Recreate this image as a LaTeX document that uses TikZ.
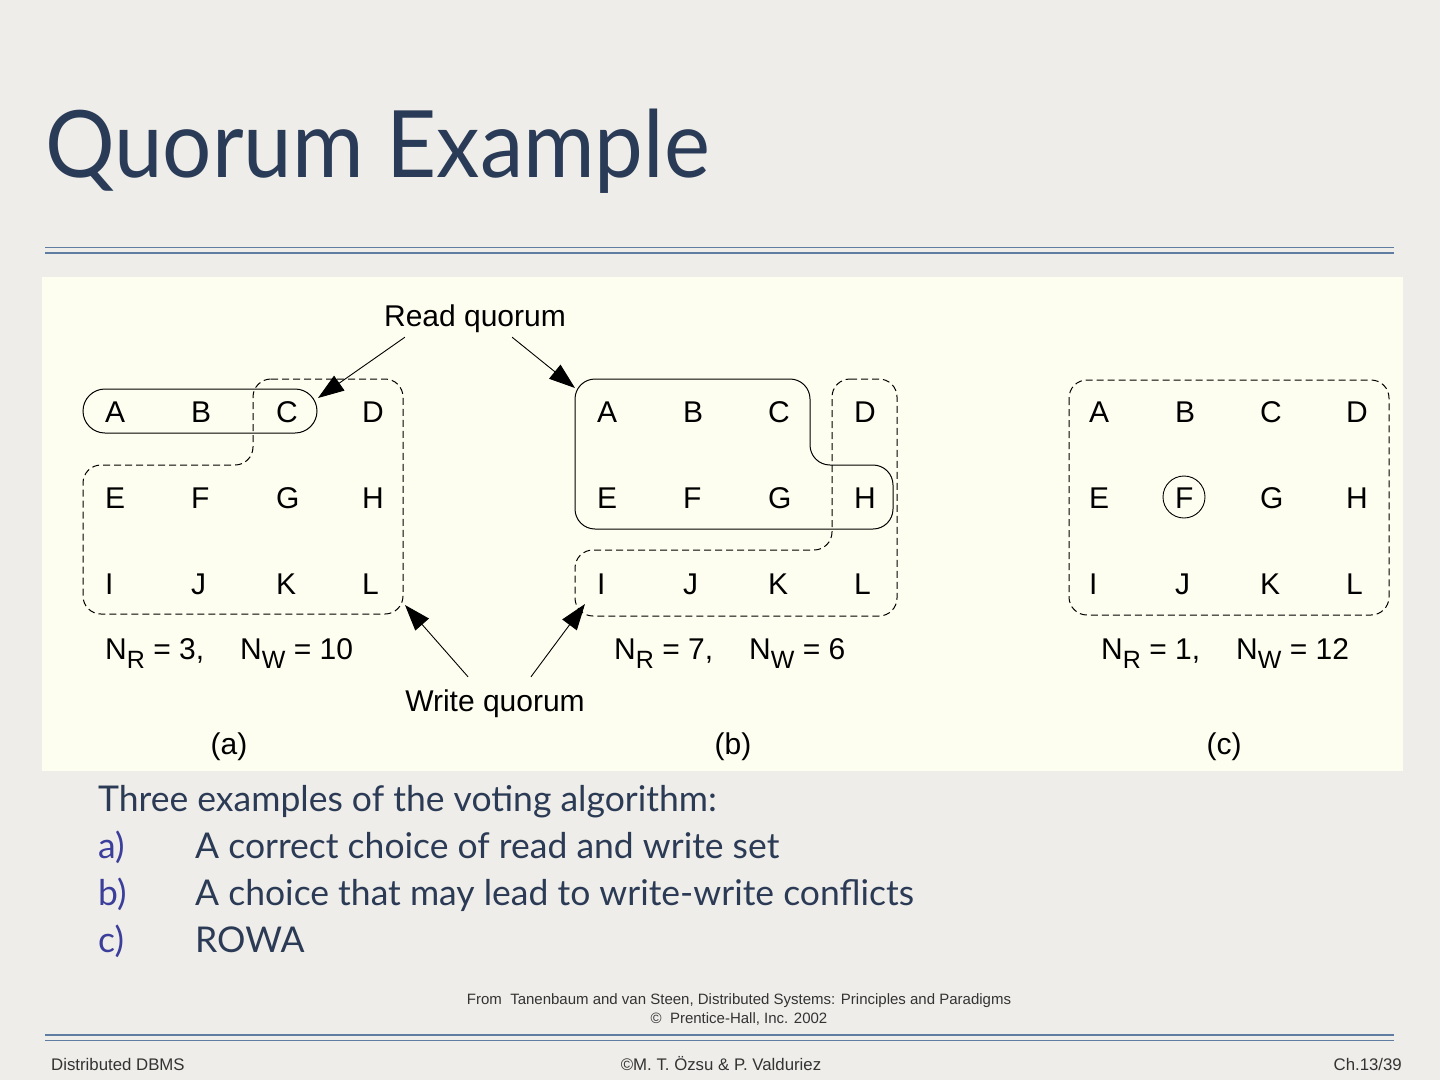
\documentclass[tikz,border=0pt]{standalone}
\usepackage{fontspec}
\setmainfont{Liberation Sans}
\newfontfamily\slidefont{Lato}
\usetikzlibrary{arrows.meta}
\definecolor{slidebg}{HTML}{EFEDE9}
\definecolor{panelbg}{HTML}{FEFEF0}
\definecolor{titlecol}{HTML}{2A3B57}
\definecolor{bodycol}{HTML}{2B3A55}
\definecolor{labcol}{HTML}{3B3E9A}
\definecolor{rulecol}{HTML}{5F7CA3}
\definecolor{footcol}{HTML}{333333}
\newcommand\subsc[1]{\raisebox{-0.33em}{\fontsize{25}{25}\selectfont #1}}
\tikzset{
  letter/.style={anchor=base west,inner sep=0pt,font=\fontsize{30}{36}\selectfont},
  lbl/.style={inner sep=0pt,font=\fontsize{30}{36}\selectfont},
  nlab/.style={anchor=base west,inner sep=0pt,font=\fontsize{30}{36}\selectfont},
  readq/.style={draw=black,line width=1pt,rounded corners=20pt},
  writeq/.style={draw=black,line width=1pt,dash pattern=on 7pt off 4pt,rounded corners=18pt},
  arr/.style={draw=black,line width=0.9pt,-{Triangle[length=26pt,width=18pt]}},
  body/.style={anchor=base west,inner sep=0pt,text=bodycol,font=\slidefont\fontsize{35.5}{42}\selectfont},
  blab/.style={anchor=base west,inner sep=0pt,text=labcol,font=\slidefont\fontsize{35.5}{42}\selectfont},
  foot/.style={inner sep=0pt,text=footcol,font=\fontsize{15}{18}\selectfont},
  foot2/.style={inner sep=0pt,text=footcol,font=\fontsize{16.8}{20}\selectfont},
}
\begin{document}
\begin{tikzpicture}[x=1pt,y=-1pt]
\useasboundingbox (0,0) rectangle (1440,1080);
\fill[slidebg] (0,0) rectangle (1440,1080);
% title
\node[anchor=base west,inner sep=0pt,text=titlecol,font=\slidefont\fontsize{93}{110}\selectfont] (title) at (45,177) {\scalebox{0.936}[1]{Quorum Example}};
% rules
\draw[rulecol,line width=1pt] (45,247) -- (1394,247);
\draw[rulecol,line width=2pt] (45,252.5) -- (1394,252.5);
\draw[rulecol,line width=2pt] (45,1035) -- (1394,1035);
\draw[rulecol,line width=1pt] (45,1040.5) -- (1394,1040.5);
% panel
\fill[panelbg] (42,277) rectangle (1403,771);
% letters
\foreach \p/\dx in {a/0,b/492,c/984}{
  \foreach \L/\c/\r in {A/0/0,B/86/0,C/171/0,D/257/0,E/0/1,F/86/1,G/171/1,H/257/1,I/0/2,J/86/2,K/171/2,L/257/2}{
    \node[letter] (\p\L) at ({105+\dx+\c},{422+86*\r}) {\L};
  }
}
% (a) quorums
\draw[readq,rounded corners=22pt] (83,389) rectangle (317,433);
\draw[writeq] (253,379) -- (403,379) -- (403,614) -- (83,614) -- (83,465) -- (253,465) -- cycle;
% (b) quorums
\draw[readq] (575,379) -- (810,379) -- (810,465) -- (893,465) -- (893,529) -- (575,529) -- cycle;
\draw[writeq] (832,379) -- (897,379) -- (897,616) -- (575,616) -- (575,550) -- (832,550) -- cycle;
% (c) quorums
\draw[writeq] (1069,380) rectangle (1389,615);
\node[draw=black,line width=0.9pt,circle,minimum size=42pt,inner sep=0pt] (cFring) at (1184,497) {};
% labels
\node[lbl] (rq) at (475,319) {Read quorum};
\node[lbl] (wq) at (495,704) {Write quorum};
\coordinate (rqtipA) at (318,398);
\coordinate (rqtipB) at (575,388);
\coordinate (wqtipA) at (405,605);
\coordinate (wqtipB) at (585,604);
\draw[arr] ([xshift=21pt,yshift=-4pt]rq.south west) -- (rqtipA);
\draw[arr] ([xshift=-54pt,yshift=-4pt]rq.south east) -- (rqtipB);
\draw[arr] ([xshift=63pt,yshift=13pt]wq.north west) -- (wqtipA);
\draw[arr] ([xshift=-54pt,yshift=13pt]wq.north east) -- (wqtipB);
% N labels
\node[nlab] (na1) at (105,659) {N\subsc{R} = 3,};
\node[nlab] (na2) at (240,659) {N\subsc{W} = 10};
\node[nlab] (nb1) at (614,659) {N\subsc{R} = 7,};
\node[nlab] (nb2) at (749,659) {N\subsc{W} = 6};
\node[nlab] (nc1) at (1101,659) {N\subsc{R} = 1,};
\node[nlab] (nc2) at (1236,659) {N\subsc{W} = 12};
\node[lbl] (capa) at (229,747) {(a)};
\node[lbl] (capb) at (733,747) {(b)};
\node[lbl] (capc) at (1224,747) {(c)};
% body text
\node[body] (t0) at (98,811) {Three examples of the voting algorithm:};
\node[blab] (l1) at (98,858) {a)};
\node[body] (t1) at (195,858) {A correct choice of read and write set};
\node[blab] (l2) at (98,905) {b)};
\node[body] (t2) at (195,905) {A choice that may lead to write-write conflicts};
\node[blab] (l3) at (98,952) {c)};
\node[body] (t3) at (195,952) {ROWA};
% footer
\node[foot,anchor=base] (src1) at (739,1004) {From\ \ Tanenbaum and van Steen, Distributed Systems: Principles and Paradigms};
\node[foot,anchor=base] (src2) at (739,1023) {©\ \ Prentice-Hall, Inc. 2002};
\node[foot2,anchor=base west] (f1) at (51,1070) {Distributed DBMS};
\node[foot2,anchor=base] (f2) at (721,1070) {©M. T. Özsu \& P. Valduriez};
\node[foot2,anchor=base east] (f3) at (1402,1070) {Ch.13/39};
\end{tikzpicture}
\end{document}
